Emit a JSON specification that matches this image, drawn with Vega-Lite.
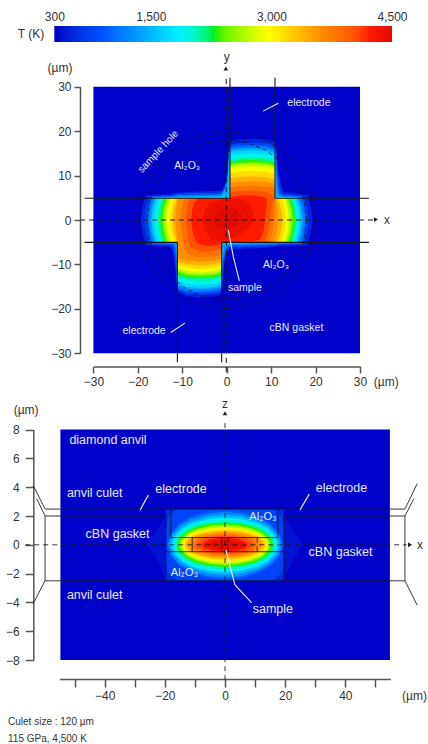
{"$schema":"https://vega.github.io/schema/vega-lite/v6.json","width":428,"height":744,"autosize":"none","padding":0,"background":"white","config":{"view":{"stroke":null},"axis":{"labelFont":"Liberation Sans","labelFontSize":12,"labelColor":"#333333","domainColor":"#555555","tickColor":"#555555","domainWidth":1.5,"tickWidth":1.5,"grid":false,"title":null}},"resolve":{"scale":{"x":"independent","y":"independent"}},"layer":[
{"encoding":{"x":{"field":"x","type":"quantitative","scale":{"domain":[300,4500],"range":[54.3,392],"nice":false,"zero":false},"axis":{"orient":"top","values":[300,1500,3000,4500],"format":",.0f","ticks":false,"domain":false,"offset":-23.5,"labelPadding":0,"labelOverlap":false,"labelFlush":false}},"y":{"field":"y","type":"quantitative","stack":null,"scale":{"domain":[0,1],"range":[42,26],"nice":false,"zero":false},"axis":null}},
"layer":[
{"mark":{"type":"rect"},"encoding":{"x2":{"field":"x2"},"y2":{"field":"y2"},"color":{"field":"T","type":"quantitative","legend":null,"scale":{"domain":[300,867,1350,1812,2274,2946,3576,4206,4500],"range":["#0000c8","#0050ff","#00a0ff","#00f0ff","#00f000","#ffff00","#ff9000","#ff1800","#e00800"]}}},"data":{"values":[{"x":300,"x2":360,"y":0,"y2":1,"T":300},{"x":350,"x2":410,"y":0,"y2":1,"T":350},{"x":400,"x2":460,"y":0,"y2":1,"T":400},{"x":450,"x2":510,"y":0,"y2":1,"T":450},{"x":500,"x2":560,"y":0,"y2":1,"T":500},{"x":550,"x2":610,"y":0,"y2":1,"T":550},{"x":600,"x2":660,"y":0,"y2":1,"T":600},{"x":650,"x2":710,"y":0,"y2":1,"T":650},{"x":700,"x2":760,"y":0,"y2":1,"T":700},{"x":750,"x2":810,"y":0,"y2":1,"T":750},{"x":800,"x2":860,"y":0,"y2":1,"T":800},{"x":850,"x2":910,"y":0,"y2":1,"T":850},{"x":900,"x2":960,"y":0,"y2":1,"T":900},{"x":950,"x2":1010,"y":0,"y2":1,"T":950},{"x":1000,"x2":1060,"y":0,"y2":1,"T":1000},{"x":1050,"x2":1110,"y":0,"y2":1,"T":1050},{"x":1100,"x2":1160,"y":0,"y2":1,"T":1100},{"x":1150,"x2":1210,"y":0,"y2":1,"T":1150},{"x":1200,"x2":1260,"y":0,"y2":1,"T":1200},{"x":1250,"x2":1310,"y":0,"y2":1,"T":1250},{"x":1300,"x2":1360,"y":0,"y2":1,"T":1300},{"x":1350,"x2":1410,"y":0,"y2":1,"T":1350},{"x":1400,"x2":1460,"y":0,"y2":1,"T":1400},{"x":1450,"x2":1510,"y":0,"y2":1,"T":1450},{"x":1500,"x2":1560,"y":0,"y2":1,"T":1500},{"x":1550,"x2":1610,"y":0,"y2":1,"T":1550},{"x":1600,"x2":1660,"y":0,"y2":1,"T":1600},{"x":1650,"x2":1710,"y":0,"y2":1,"T":1650},{"x":1700,"x2":1760,"y":0,"y2":1,"T":1700},{"x":1750,"x2":1810,"y":0,"y2":1,"T":1750},{"x":1800,"x2":1860,"y":0,"y2":1,"T":1800},{"x":1850,"x2":1910,"y":0,"y2":1,"T":1850},{"x":1900,"x2":1960,"y":0,"y2":1,"T":1900},{"x":1950,"x2":2010,"y":0,"y2":1,"T":1950},{"x":2000,"x2":2060,"y":0,"y2":1,"T":2000},{"x":2050,"x2":2110,"y":0,"y2":1,"T":2050},{"x":2100,"x2":2160,"y":0,"y2":1,"T":2100},{"x":2150,"x2":2210,"y":0,"y2":1,"T":2150},{"x":2200,"x2":2260,"y":0,"y2":1,"T":2200},{"x":2250,"x2":2310,"y":0,"y2":1,"T":2250},{"x":2300,"x2":2360,"y":0,"y2":1,"T":2300},{"x":2350,"x2":2410,"y":0,"y2":1,"T":2350},{"x":2400,"x2":2460,"y":0,"y2":1,"T":2400},{"x":2450,"x2":2510,"y":0,"y2":1,"T":2450},{"x":2500,"x2":2560,"y":0,"y2":1,"T":2500},{"x":2550,"x2":2610,"y":0,"y2":1,"T":2550},{"x":2600,"x2":2660,"y":0,"y2":1,"T":2600},{"x":2650,"x2":2710,"y":0,"y2":1,"T":2650},{"x":2700,"x2":2760,"y":0,"y2":1,"T":2700},{"x":2750,"x2":2810,"y":0,"y2":1,"T":2750},{"x":2800,"x2":2860,"y":0,"y2":1,"T":2800},{"x":2850,"x2":2910,"y":0,"y2":1,"T":2850},{"x":2900,"x2":2960,"y":0,"y2":1,"T":2900},{"x":2950,"x2":3010,"y":0,"y2":1,"T":2950},{"x":3000,"x2":3060,"y":0,"y2":1,"T":3000},{"x":3050,"x2":3110,"y":0,"y2":1,"T":3050},{"x":3100,"x2":3160,"y":0,"y2":1,"T":3100},{"x":3150,"x2":3210,"y":0,"y2":1,"T":3150},{"x":3200,"x2":3260,"y":0,"y2":1,"T":3200},{"x":3250,"x2":3310,"y":0,"y2":1,"T":3250},{"x":3300,"x2":3360,"y":0,"y2":1,"T":3300},{"x":3350,"x2":3410,"y":0,"y2":1,"T":3350},{"x":3400,"x2":3460,"y":0,"y2":1,"T":3400},{"x":3450,"x2":3510,"y":0,"y2":1,"T":3450},{"x":3500,"x2":3560,"y":0,"y2":1,"T":3500},{"x":3550,"x2":3610,"y":0,"y2":1,"T":3550},{"x":3600,"x2":3660,"y":0,"y2":1,"T":3600},{"x":3650,"x2":3710,"y":0,"y2":1,"T":3650},{"x":3700,"x2":3760,"y":0,"y2":1,"T":3700},{"x":3750,"x2":3810,"y":0,"y2":1,"T":3750},{"x":3800,"x2":3860,"y":0,"y2":1,"T":3800},{"x":3850,"x2":3910,"y":0,"y2":1,"T":3850},{"x":3900,"x2":3960,"y":0,"y2":1,"T":3900},{"x":3950,"x2":4010,"y":0,"y2":1,"T":3950},{"x":4000,"x2":4060,"y":0,"y2":1,"T":4000},{"x":4050,"x2":4110,"y":0,"y2":1,"T":4050},{"x":4100,"x2":4160,"y":0,"y2":1,"T":4100},{"x":4150,"x2":4210,"y":0,"y2":1,"T":4150},{"x":4200,"x2":4260,"y":0,"y2":1,"T":4200},{"x":4250,"x2":4310,"y":0,"y2":1,"T":4250},{"x":4300,"x2":4360,"y":0,"y2":1,"T":4300},{"x":4350,"x2":4410,"y":0,"y2":1,"T":4350},{"x":4400,"x2":4460,"y":0,"y2":1,"T":4400},{"x":4450,"x2":4500,"y":0,"y2":1,"T":4450}]}},
{"mark":{"type":"text","font":"Liberation Sans","fontSize":12,"fill":"#333333"},"encoding":{"text":{"field":"s"}},"data":{"values":[{"x":10,"y":0.5,"s":"T (K)"}]}}
]},
{"encoding":{"x":{"field":"x","type":"quantitative","scale":{"domain":[-30,30],"range":[93.4,360],"nice":false,"zero":false},"axis":{"orient":"bottom","values":[-30,-20,-10,0,10,20,30],"offset":-377.5,"tickSize":6.5,"labelPadding":3,"labelOverlap":false,"labelFlush":false}},"y":{"field":"y","type":"quantitative","stack":null,"scale":{"domain":[-30,30],"range":[353.3,86.7],"nice":false,"zero":false},"axis":{"orient":"left","values":[-30,-20,-10,0,10,20,30],"offset":-80,"tickSize":6,"labelPadding":3,"labelOverlap":false,"labelFlush":false}}},
"layer":[
{"mark":{"type":"rect"},"encoding":{"x2":{"field":"x2"},"y2":{"field":"y2"},"color":{"field":"T","type":"quantitative","legend":null,"scale":{"domain":[300,867,1350,1812,2274,2946,3576,4206,4500],"range":["#0000c8","#0050ff","#00a0ff","#00f0ff","#00f000","#ffff00","#ff9000","#ff1800","#e00800"]}}},"data":{"values":[{"x":-30,"x2":30,"y":-30,"y2":30,"T":300}]}},
{"mark":{"type":"area","interpolate":"linear"},"encoding":{"y2":{"field":"b"},"detail":{"field":"T"},"color":{"field":"T","type":"quantitative","legend":null,"scale":{"domain":[300,867,1350,1812,2274,2946,3576,4206,4500],"range":["#0000c8","#0050ff","#00a0ff","#00f0ff","#00f000","#ffff00","#ff9000","#ff1800","#e00800"]}}},"data":{"values":[
{"T":500,"x":-19.3,"y":0,"b":0},{"T":500,"x":-19,"y":2.5,"b":-2.5},{"T":500,"x":-18.3,"y":5.6,"b":-5.7},{"T":500,"x":-13,"y":5.8,"b":-5.9},{"T":500,"x":-12.4,"y":6,"b":-6.6},{"T":500,"x":-11.8,"y":6.1,"b":-9},{"T":500,"x":-11.3,"y":6.2,"b":-14},{"T":500,"x":-11.1,"y":6.2,"b":-16.3},{"T":500,"x":-9,"y":6.3,"b":-17.15},{"T":500,"x":-6,"y":6.4,"b":-17.4},{"T":500,"x":-3,"y":6.5,"b":-17.2},{"T":500,"x":-1.3,"y":6.6,"b":-16.7},{"T":500,"x":-1,"y":7,"b":-14},{"T":500,"x":-0.5,"y":8,"b":-9},{"T":500,"x":0,"y":10,"b":-7.3},{"T":500,"x":0.4,"y":13,"b":-6.7},{"T":500,"x":0.7,"y":17.5,"b":-6.6},{"T":500,"x":1,"y":17.9,"b":-6.6},{"T":500,"x":3,"y":18.18,"b":-6.5},{"T":500,"x":6,"y":18.3,"b":-6.4},{"T":500,"x":9,"y":18.1,"b":-6.2},{"T":500,"x":10.9,"y":17.6,"b":-6},{"T":500,"x":11.2,"y":16.5,"b":-6},{"T":500,"x":11.6,"y":11,"b":-5.9},{"T":500,"x":12.3,"y":7.5,"b":-5.8},{"T":500,"x":13,"y":6.3,"b":-5.8},{"T":500,"x":18.3,"y":5.6,"b":-5.7},{"T":500,"x":19,"y":2.5,"b":-2.5},{"T":500,"x":19.3,"y":0,"b":0},
{"T":800,"x":-18.5,"y":0,"b":0},{"T":800,"x":-18.2,"y":2.5,"b":-2.5},{"T":800,"x":-17.5,"y":5.4,"b":-5.5},{"T":800,"x":-12.6,"y":5.55,"b":-5.65},{"T":800,"x":-12.1,"y":5.7,"b":-6.2},{"T":800,"x":-11.6,"y":5.8,"b":-9},{"T":800,"x":-11.25,"y":5.9,"b":-13.5},{"T":800,"x":-11.1,"y":5.9,"b":-15.8},{"T":800,"x":-9,"y":6,"b":-16.55},{"T":800,"x":-6,"y":6.05,"b":-16.8},{"T":800,"x":-3,"y":6.1,"b":-16.6},{"T":800,"x":-1.3,"y":6.2,"b":-16.1},{"T":800,"x":-0.95,"y":6.5,"b":-13.5},{"T":800,"x":-0.6,"y":7,"b":-9.5},{"T":800,"x":-0.1,"y":8.5,"b":-7},{"T":800,"x":0.3,"y":11,"b":-6.4},{"T":800,"x":0.65,"y":16.5,"b":-6.2},{"T":800,"x":0.9,"y":17,"b":-6.15},{"T":800,"x":3,"y":17.28,"b":-6.1},{"T":800,"x":6,"y":17.4,"b":-6},{"T":800,"x":9,"y":17.2,"b":-5.9},{"T":800,"x":10.9,"y":16.7,"b":-5.75},{"T":800,"x":11.1,"y":15.8,"b":-5.75},{"T":800,"x":11.45,"y":11,"b":-5.7},{"T":800,"x":11.9,"y":7,"b":-5.6},{"T":800,"x":12.5,"y":5.9,"b":-5.55},{"T":800,"x":17.4,"y":5.4,"b":-5.5},{"T":800,"x":18.1,"y":2.5,"b":-2.5},{"T":800,"x":18.4,"y":0,"b":0},
{"T":1100,"x":-17.8,"y":0,"b":0},{"T":1100,"x":-17.5,"y":2.5,"b":-2.5},{"T":1100,"x":-16.8,"y":5.25,"b":-5.35},{"T":1100,"x":-12,"y":5.35,"b":-5.45},{"T":1100,"x":-11.7,"y":5.45,"b":-5.9},{"T":1100,"x":-11.35,"y":5.55,"b":-9},{"T":1100,"x":-11.15,"y":5.6,"b":-13},{"T":1100,"x":-11.1,"y":5.6,"b":-15.4},{"T":1100,"x":-9,"y":5.65,"b":-16.05},{"T":1100,"x":-6,"y":5.7,"b":-16.3},{"T":1100,"x":-3,"y":5.75,"b":-16.1},{"T":1100,"x":-1.2,"y":5.85,"b":-15.6},{"T":1100,"x":-1.05,"y":6.1,"b":-13},{"T":1100,"x":-0.8,"y":6.5,"b":-9.5},{"T":1100,"x":-0.3,"y":7.5,"b":-6.8},{"T":1100,"x":0.2,"y":10,"b":-6},{"T":1100,"x":0.6,"y":15.5,"b":-5.85},{"T":1100,"x":0.85,"y":16.4,"b":-5.8},{"T":1100,"x":3,"y":16.68,"b":-5.75},{"T":1100,"x":6,"y":16.8,"b":-5.7},{"T":1100,"x":9,"y":16.6,"b":-5.6},{"T":1100,"x":10.9,"y":16.1,"b":-5.5},{"T":1100,"x":11.05,"y":15,"b":-5.5},{"T":1100,"x":11.3,"y":11,"b":-5.45},{"T":1100,"x":11.65,"y":6.8,"b":-5.4},{"T":1100,"x":12.2,"y":5.5,"b":-5.35},{"T":1100,"x":16.8,"y":5.25,"b":-5.35},{"T":1100,"x":17.5,"y":2.5,"b":-2.5},{"T":1100,"x":17.8,"y":0,"b":0},
{"T":1400,"x":-17.3,"y":0,"b":0},{"T":1400,"x":-17,"y":2.5,"b":-2.5},{"T":1400,"x":-16.3,"y":5.1,"b":-5.2},{"T":1400,"x":-11.7,"y":5.15,"b":-5.25},{"T":1400,"x":-11.45,"y":5.2,"b":-5.7},{"T":1400,"x":-11.2,"y":5.25,"b":-9},{"T":1400,"x":-11.1,"y":5.3,"b":-14.8},{"T":1400,"x":-9,"y":5.35,"b":-15.45},{"T":1400,"x":-6,"y":5.4,"b":-15.7},{"T":1400,"x":-3,"y":5.45,"b":-15.5},{"T":1400,"x":-1.13,"y":5.5,"b":-15},{"T":1400,"x":-1.12,"y":5.6,"b":-12},{"T":1400,"x":-0.95,"y":5.9,"b":-9},{"T":1400,"x":-0.5,"y":6.5,"b":-6.3},{"T":1400,"x":0.1,"y":8.5,"b":-5.6},{"T":1400,"x":0.55,"y":14,"b":-5.5},{"T":1400,"x":0.74,"y":15.8,"b":-5.45},{"T":1400,"x":3,"y":16.08,"b":-5.4},{"T":1400,"x":6,"y":16.2,"b":-5.35},{"T":1400,"x":9,"y":16,"b":-5.3},{"T":1400,"x":10.9,"y":15.5,"b":-5.3},{"T":1400,"x":10.95,"y":14,"b":-5.3},{"T":1400,"x":11.15,"y":10,"b":-5.3},{"T":1400,"x":11.4,"y":6.5,"b":-5.25},{"T":1400,"x":11.8,"y":5.3,"b":-5.25},{"T":1400,"x":16.2,"y":5.1,"b":-5.2},{"T":1400,"x":16.9,"y":2.5,"b":-2.5},{"T":1400,"x":17.2,"y":0,"b":0},
{"T":1650,"x":-16.9,"y":0,"b":0},{"T":1650,"x":-16.6,"y":2.5,"b":-2.5},{"T":1650,"x":-15.9,"y":5,"b":-5.1},{"T":1650,"x":-11.2,"y":5.05,"b":-5.15},{"T":1650,"x":-11.19,"y":5.05,"b":-14.4},{"T":1650,"x":-9,"y":5.1,"b":-15.05},{"T":1650,"x":-6,"y":5.15,"b":-15.3},{"T":1650,"x":-3,"y":5.2,"b":-15.1},{"T":1650,"x":-1.13,"y":5.25,"b":-14.6},{"T":1650,"x":-1.12,"y":5.3,"b":-5.3},{"T":1650,"x":0.44,"y":5.5,"b":-5.3},{"T":1650,"x":0.45,"y":15.3,"b":-5.3},{"T":1650,"x":3,"y":15.58,"b":-5.25},{"T":1650,"x":6,"y":15.7,"b":-5.2},{"T":1650,"x":9,"y":15.5,"b":-5.15},{"T":1650,"x":11,"y":15,"b":-5.1},{"T":1650,"x":11.01,"y":5.3,"b":-5.1},{"T":1650,"x":15.8,"y":5,"b":-5.05},{"T":1650,"x":16.5,"y":2.5,"b":-2.5},{"T":1650,"x":16.8,"y":0,"b":0},
{"T":1900,"x":-16.2,"y":0,"b":0},{"T":1900,"x":-15.9,"y":2.5,"b":-2.5},{"T":1900,"x":-15.2,"y":4.95,"b":-5.05},{"T":1900,"x":-11.12,"y":4.95,"b":-5.05},{"T":1900,"x":-11.11,"y":4.95,"b":-13.7},{"T":1900,"x":-9,"y":5,"b":-14.35},{"T":1900,"x":-6,"y":5.02,"b":-14.6},{"T":1900,"x":-3,"y":5.05,"b":-14.4},{"T":1900,"x":-1.13,"y":5.1,"b":-13.9},{"T":1900,"x":-1.12,"y":5.1,"b":-5.15},{"T":1900,"x":0.64,"y":5.15,"b":-5.15},{"T":1900,"x":0.65,"y":14.6,"b":-5.15},{"T":1900,"x":3,"y":14.88,"b":-5.15},{"T":1900,"x":6,"y":15,"b":-5.1},{"T":1900,"x":9,"y":14.8,"b":-5.05},{"T":1900,"x":10.95,"y":14.3,"b":-5.05},{"T":1900,"x":10.96,"y":5.1,"b":-5.05},{"T":1900,"x":15.3,"y":4.95,"b":-5},{"T":1900,"x":16,"y":2.5,"b":-2.5},{"T":1900,"x":16.3,"y":0,"b":0},
{"T":2100,"x":-15.6,"y":0,"b":0},{"T":2100,"x":-15.3,"y":2.5,"b":-2.5},{"T":2100,"x":-14.6,"y":4.9,"b":-5},{"T":2100,"x":-11.1,"y":4.9,"b":-5},{"T":2100,"x":-11.09,"y":4.9,"b":-12.8},{"T":2100,"x":-9,"y":4.9,"b":-13.45},{"T":2100,"x":-6,"y":4.9,"b":-13.7},{"T":2100,"x":-3,"y":4.9,"b":-13.5},{"T":2100,"x":-1.14,"y":4.9,"b":-13},{"T":2100,"x":-1.13,"y":4.9,"b":-5},{"T":2100,"x":0.74,"y":4.9,"b":-5},{"T":2100,"x":0.75,"y":13.7,"b":-5},{"T":2100,"x":3,"y":13.98,"b":-5},{"T":2100,"x":6,"y":14.1,"b":-5},{"T":2100,"x":9,"y":13.9,"b":-5},{"T":2100,"x":10.9,"y":13.4,"b":-5},{"T":2100,"x":10.91,"y":4.9,"b":-5},{"T":2100,"x":14.8,"y":4.9,"b":-5},{"T":2100,"x":15.5,"y":2.5,"b":-2.5},{"T":2100,"x":15.8,"y":0,"b":0},
{"T":2300,"x":-15,"y":0,"b":0},{"T":2300,"x":-14.7,"y":2.5,"b":-2.5},{"T":2300,"x":-14,"y":4.9,"b":-5},{"T":2300,"x":-11.1,"y":4.9,"b":-5},{"T":2300,"x":-11.09,"y":4.9,"b":-12.2},{"T":2300,"x":-9,"y":4.9,"b":-12.85},{"T":2300,"x":-6,"y":4.9,"b":-13.1},{"T":2300,"x":-3,"y":4.9,"b":-12.9},{"T":2300,"x":-1.14,"y":4.9,"b":-12.4},{"T":2300,"x":-1.13,"y":4.9,"b":-5},{"T":2300,"x":0.74,"y":4.9,"b":-5},{"T":2300,"x":0.75,"y":13.1,"b":-5},{"T":2300,"x":3,"y":13.38,"b":-5},{"T":2300,"x":6,"y":13.5,"b":-5},{"T":2300,"x":9,"y":13.3,"b":-5},{"T":2300,"x":10.9,"y":12.8,"b":-5},{"T":2300,"x":10.91,"y":4.9,"b":-5},{"T":2300,"x":14.4,"y":4.9,"b":-5},{"T":2300,"x":15.1,"y":2.5,"b":-2.5},{"T":2300,"x":15.4,"y":0,"b":0},
{"T":2500,"x":-14.5,"y":0,"b":0},{"T":2500,"x":-14.2,"y":2.5,"b":-2.5},{"T":2500,"x":-13.5,"y":4.9,"b":-5},{"T":2500,"x":-11.1,"y":4.9,"b":-5},{"T":2500,"x":-11.09,"y":4.9,"b":-11.7},{"T":2500,"x":-9,"y":4.9,"b":-12.35},{"T":2500,"x":-6,"y":4.9,"b":-12.6},{"T":2500,"x":-3,"y":4.9,"b":-12.4},{"T":2500,"x":-1.14,"y":4.9,"b":-11.9},{"T":2500,"x":-1.13,"y":4.9,"b":-5},{"T":2500,"x":0.74,"y":4.9,"b":-5},{"T":2500,"x":0.75,"y":12.6,"b":-5},{"T":2500,"x":3,"y":12.88,"b":-5},{"T":2500,"x":6,"y":13,"b":-5},{"T":2500,"x":9,"y":12.8,"b":-5},{"T":2500,"x":10.9,"y":12.3,"b":-5},{"T":2500,"x":10.91,"y":4.9,"b":-5},{"T":2500,"x":13.9,"y":4.9,"b":-5},{"T":2500,"x":14.6,"y":2.5,"b":-2.5},{"T":2500,"x":14.9,"y":0,"b":0},
{"T":2700,"x":-14,"y":0,"b":0},{"T":2700,"x":-13.7,"y":2.5,"b":-2.5},{"T":2700,"x":-13,"y":4.9,"b":-5},{"T":2700,"x":-11.1,"y":4.9,"b":-5},{"T":2700,"x":-11.09,"y":4.9,"b":-11.3},{"T":2700,"x":-9,"y":4.9,"b":-11.95},{"T":2700,"x":-6,"y":4.9,"b":-12.2},{"T":2700,"x":-3,"y":4.9,"b":-12},{"T":2700,"x":-1.14,"y":4.9,"b":-11.5},{"T":2700,"x":-1.13,"y":4.9,"b":-5},{"T":2700,"x":0.74,"y":4.9,"b":-5},{"T":2700,"x":0.75,"y":12.2,"b":-5},{"T":2700,"x":3,"y":12.48,"b":-5},{"T":2700,"x":6,"y":12.6,"b":-5},{"T":2700,"x":9,"y":12.4,"b":-5},{"T":2700,"x":10.9,"y":11.9,"b":-5},{"T":2700,"x":10.91,"y":4.9,"b":-5},{"T":2700,"x":13.4,"y":4.9,"b":-5},{"T":2700,"x":14.1,"y":2.5,"b":-2.5},{"T":2700,"x":14.4,"y":0,"b":0},
{"T":2900,"x":-13.5,"y":0,"b":0},{"T":2900,"x":-13.2,"y":2.5,"b":-2.5},{"T":2900,"x":-12.5,"y":4.9,"b":-5},{"T":2900,"x":-11.1,"y":4.9,"b":-5},{"T":2900,"x":-11.09,"y":4.9,"b":-10.8},{"T":2900,"x":-9,"y":4.9,"b":-11.45},{"T":2900,"x":-6,"y":4.9,"b":-11.7},{"T":2900,"x":-3,"y":4.9,"b":-11.5},{"T":2900,"x":-1.14,"y":4.9,"b":-11},{"T":2900,"x":-1.13,"y":4.9,"b":-5},{"T":2900,"x":0.74,"y":4.9,"b":-5},{"T":2900,"x":0.75,"y":11.7,"b":-5},{"T":2900,"x":3,"y":11.98,"b":-5},{"T":2900,"x":6,"y":12.1,"b":-5},{"T":2900,"x":9,"y":11.9,"b":-5},{"T":2900,"x":10.9,"y":11.4,"b":-5},{"T":2900,"x":10.91,"y":4.9,"b":-5},{"T":2900,"x":13,"y":4.9,"b":-5},{"T":2900,"x":13.7,"y":2.5,"b":-2.5},{"T":2900,"x":14,"y":0,"b":0},
{"T":3150,"x":-12.8,"y":0,"b":0},{"T":3150,"x":-12.5,"y":2.5,"b":-2.5},{"T":3150,"x":-11.8,"y":4.9,"b":-5},{"T":3150,"x":-11.1,"y":4.9,"b":-5},{"T":3150,"x":-11.09,"y":4.9,"b":-10.1},{"T":3150,"x":-9,"y":4.9,"b":-10.75},{"T":3150,"x":-6,"y":4.9,"b":-11},{"T":3150,"x":-3,"y":4.9,"b":-10.8},{"T":3150,"x":-1.14,"y":4.9,"b":-10.3},{"T":3150,"x":-1.13,"y":4.9,"b":-5},{"T":3150,"x":0.74,"y":4.9,"b":-5},{"T":3150,"x":0.75,"y":10.6,"b":-5},{"T":3150,"x":3,"y":10.88,"b":-5},{"T":3150,"x":6,"y":11,"b":-5},{"T":3150,"x":9,"y":10.8,"b":-5},{"T":3150,"x":10.9,"y":10.3,"b":-5},{"T":3150,"x":10.91,"y":4.9,"b":-5},{"T":3150,"x":12.3,"y":4.9,"b":-5},{"T":3150,"x":13,"y":2.5,"b":-2.5},{"T":3150,"x":13.3,"y":0,"b":0},
{"T":3400,"x":-12.2,"y":0,"b":0},{"T":3400,"x":-11.9,"y":2.5,"b":-2.5},{"T":3400,"x":-11.2,"y":4.9,"b":-5},{"T":3400,"x":-11.1,"y":4.9,"b":-5},{"T":3400,"x":-11.09,"y":4.9,"b":-9.3},{"T":3400,"x":-9,"y":4.9,"b":-9.95},{"T":3400,"x":-6,"y":4.9,"b":-10.2},{"T":3400,"x":-3,"y":4.9,"b":-10},{"T":3400,"x":-1.14,"y":4.9,"b":-9.5},{"T":3400,"x":-1.13,"y":4.9,"b":-5},{"T":3400,"x":0.74,"y":4.9,"b":-5},{"T":3400,"x":0.75,"y":9.4,"b":-5},{"T":3400,"x":3,"y":9.68,"b":-5},{"T":3400,"x":6,"y":9.8,"b":-5},{"T":3400,"x":9,"y":9.6,"b":-5},{"T":3400,"x":10.9,"y":9.1,"b":-5},{"T":3400,"x":10.91,"y":4.9,"b":-5},{"T":3400,"x":11.5,"y":4.9,"b":-5},{"T":3400,"x":12.2,"y":2.5,"b":-2.5},{"T":3400,"x":12.5,"y":0,"b":0},
{"T":3600,"x":-11.6,"y":0,"b":0},{"T":3600,"x":-11.3,"y":2.5,"b":-2.5},{"T":3600,"x":-11.11,"y":4,"b":-4},{"T":3600,"x":-11.1,"y":4.9,"b":-8.5},{"T":3600,"x":-9,"y":4.9,"b":-9.15},{"T":3600,"x":-6,"y":4.9,"b":-9.4},{"T":3600,"x":-3,"y":4.9,"b":-9.2},{"T":3600,"x":-1.14,"y":4.9,"b":-8.7},{"T":3600,"x":-1.13,"y":4.9,"b":-5},{"T":3600,"x":0.74,"y":4.9,"b":-5},{"T":3600,"x":0.75,"y":8.3,"b":-5},{"T":3600,"x":3,"y":8.58,"b":-5},{"T":3600,"x":6,"y":8.7,"b":-5},{"T":3600,"x":9,"y":8.5,"b":-5},{"T":3600,"x":10.6,"y":8.2,"b":-5},{"T":3600,"x":10.9,"y":8,"b":-4},{"T":3600,"x":10.91,"y":4.9,"b":-4},{"T":3600,"x":11.3,"y":2.5,"b":-2.5},{"T":3600,"x":11.6,"y":0,"b":0},
{"T":3800,"x":-10.4,"y":0,"b":0},{"T":3800,"x":-10.2,"y":2,"b":-2},{"T":3800,"x":-9.9,"y":3.8,"b":-4.5},{"T":3800,"x":-9.5,"y":4.9,"b":-6.5},{"T":3800,"x":-8.5,"y":4.9,"b":-7.8},{"T":3800,"x":-6,"y":4.9,"b":-8.4},{"T":3800,"x":-3,"y":4.9,"b":-8.2},{"T":3800,"x":-1.14,"y":4.9,"b":-7.7},{"T":3800,"x":-1.13,"y":4.9,"b":-5},{"T":3800,"x":0.74,"y":4.9,"b":-5},{"T":3800,"x":0.75,"y":7.3,"b":-5},{"T":3800,"x":3,"y":7.6,"b":-5},{"T":3800,"x":6,"y":7.7,"b":-5},{"T":3800,"x":9.6,"y":7.4,"b":-5},{"T":3800,"x":10.3,"y":7.2,"b":-2.5},{"T":3800,"x":10.6,"y":7.1,"b":0},{"T":3800,"x":10.75,"y":7,"b":2.5},{"T":3800,"x":10.9,"y":6.9,"b":4.6},{"T":3800,"x":10.91,"y":4.9,"b":4.7},{"T":3800,"x":11,"y":4.8,"b":4.8},
{"T":4000,"x":-9.2,"y":0,"b":0},{"T":4000,"x":-9,"y":2,"b":-2},{"T":4000,"x":-8.7,"y":3.8,"b":-4.5},{"T":4000,"x":-8.2,"y":4.9,"b":-6},{"T":4000,"x":-6,"y":4.9,"b":-7.2},{"T":4000,"x":-3,"y":4.9,"b":-7},{"T":4000,"x":-1.14,"y":4.9,"b":-6.4},{"T":4000,"x":-1.13,"y":4.9,"b":-5},{"T":4000,"x":0.74,"y":4.9,"b":-5},{"T":4000,"x":0.75,"y":6.2,"b":-5},{"T":4000,"x":3,"y":6.5,"b":-5},{"T":4000,"x":6,"y":6.6,"b":-5},{"T":4000,"x":8.7,"y":6.3,"b":-5},{"T":4000,"x":9.4,"y":6.1,"b":-2.5},{"T":4000,"x":9.7,"y":6,"b":0},{"T":4000,"x":10,"y":5.8,"b":2.5},{"T":4000,"x":10.4,"y":5.4,"b":4.5},{"T":4000,"x":10.6,"y":4.9,"b":4.9},
{"T":4200,"x":-8,"y":0,"b":0},{"T":4200,"x":-7.8,"y":2,"b":-2},{"T":4200,"x":-7.3,"y":3.8,"b":-4},{"T":4200,"x":-6.5,"y":4.9,"b":-5.3},{"T":4200,"x":-4,"y":4.9,"b":-5.9},{"T":4200,"x":-1.14,"y":4.9,"b":-5.4},{"T":4200,"x":-1.13,"y":4.9,"b":-5},{"T":4200,"x":0.74,"y":4.9,"b":-5},{"T":4200,"x":0.75,"y":5.2,"b":-5},{"T":4200,"x":3,"y":5.5,"b":-4.9},{"T":4200,"x":6,"y":5.5,"b":-4.8},{"T":4200,"x":7.6,"y":5.3,"b":-4.3},{"T":4200,"x":8.3,"y":5.2,"b":-2.5},{"T":4200,"x":8.6,"y":5.1,"b":0},{"T":4200,"x":8.9,"y":4.9,"b":2.5},{"T":4200,"x":9,"y":4.5,"b":4},
{"T":4380,"x":-5.5,"y":0,"b":0},{"T":4380,"x":-4.8,"y":2.5,"b":-2.5},{"T":4380,"x":-3.5,"y":4,"b":-4.4},{"T":4380,"x":-1.5,"y":4.5,"b":-4.8},{"T":4380,"x":1,"y":4.85,"b":-4.2},{"T":4380,"x":3.5,"y":4.7,"b":-3.2},{"T":4380,"x":5.2,"y":3.5,"b":-1.5},{"T":4380,"x":6,"y":1.5,"b":0},
{"T":4480,"x":-3,"y":0,"b":0},{"T":4480,"x":-2,"y":2,"b":-2},{"T":4480,"x":0,"y":2.8,"b":-2.2},{"T":4480,"x":2,"y":2.5,"b":-1.5},{"T":4480,"x":3.5,"y":1,"b":0}
]}},
{"mark":{"type":"line","stroke":"#10102a","strokeWidth":1,"strokeDash":[2,2.5],"opacity":0.85},"encoding":{"order":{"field":"i"}},"data":{"values":[{"i":0,"x":20,"y":0},{"i":1,"x":19.3,"y":5.2},{"i":2,"x":17.3,"y":10},{"i":3,"x":14.1,"y":14.1},{"i":4,"x":10,"y":17.3},{"i":5,"x":5.2,"y":19.3},{"i":6,"x":0,"y":20},{"i":7,"x":-5.2,"y":19.3},{"i":8,"x":-10,"y":17.3},{"i":9,"x":-14.1,"y":14.1},{"i":10,"x":-17.3,"y":10},{"i":11,"x":-19.3,"y":5.2},{"i":12,"x":-20,"y":0},{"i":13,"x":-19.3,"y":-5.2},{"i":14,"x":-17.3,"y":-10},{"i":15,"x":-14.1,"y":-14.1},{"i":16,"x":-10,"y":-17.3},{"i":17,"x":-5.2,"y":-19.3},{"i":18,"x":0,"y":-20},{"i":19,"x":5.2,"y":-19.3},{"i":20,"x":10,"y":-17.3},{"i":21,"x":14.1,"y":-14.1},{"i":22,"x":17.3,"y":-10},{"i":23,"x":19.3,"y":-5.2},{"i":24,"x":20,"y":0}]}},
{"mark":{"type":"line","stroke":"#10102a","strokeWidth":1,"strokeDash":[4,3],"opacity":0.8},"encoding":{"order":{"field":"i"}},"data":{"values":[{"i":0,"x":18,"y":0},{"i":1,"x":17.4,"y":4.7},{"i":2,"x":15.6,"y":9},{"i":3,"x":12.7,"y":12.7},{"i":4,"x":9,"y":15.6},{"i":5,"x":4.7,"y":17.4},{"i":6,"x":0,"y":18},{"i":7,"x":-4.7,"y":17.4},{"i":8,"x":-9,"y":15.6},{"i":9,"x":-12.7,"y":12.7},{"i":10,"x":-15.6,"y":9},{"i":11,"x":-17.4,"y":4.7},{"i":12,"x":-18,"y":0},{"i":13,"x":-17.4,"y":-4.7},{"i":14,"x":-15.6,"y":-9},{"i":15,"x":-12.7,"y":-12.7},{"i":16,"x":-9,"y":-15.6},{"i":17,"x":-4.7,"y":-17.4},{"i":18,"x":0,"y":-18},{"i":19,"x":4.7,"y":-17.4},{"i":20,"x":9,"y":-15.6},{"i":21,"x":12.7,"y":-12.7},{"i":22,"x":15.6,"y":-9},{"i":23,"x":17.4,"y":-4.7},{"i":24,"x":18,"y":0}]}},
{"mark":{"type":"rule","stroke":"#15151f","strokeWidth":1.1},"encoding":{"x2":{"field":"x2"},"y2":{"field":"y2"}},"data":{"values":[{"x":-32,"y":4.88,"x2":0.74,"y2":4.88},{"x":0.74,"y":4.88,"x2":0.74,"y2":32},{"x":10.87,"y":32,"x2":10.87,"y2":4.88},{"x":10.87,"y":4.88,"x2":32,"y2":4.88},{"x":-32,"y":-5.03,"x2":-11.1,"y2":-5.03},{"x":-11.1,"y":-5.03,"x2":-11.1,"y2":-32},{"x":-1.13,"y":-32,"x2":-1.13,"y2":-5.03},{"x":-1.13,"y":-5.03,"x2":32,"y2":-5.03}]}},
{"mark":{"type":"rule","stroke":"#15151f","strokeWidth":1,"strokeDash":[5,4]},"encoding":{"x2":{"field":"x2"},"y2":{"field":"y2"}},"data":{"values":[{"x":-33,"y":0,"x2":33,"y2":0},{"x":-0.1,"y":-34.2,"x2":-0.1,"y2":32.5}]}},
{"mark":{"type":"rule","stroke":"#eef0ff","strokeWidth":1.1},"encoding":{"x2":{"field":"x2"},"y2":{"field":"y2"}},"data":{"values":[{"x":11.6,"y":26.3,"x2":8.2,"y2":24.5},{"x":0.36,"y":-2.25,"x2":1.5,"y2":-8.3},{"x":1.5,"y":-8.3,"x2":2.84,"y2":-13.7},{"x":-12.6,"y":-25.3,"x2":-9.4,"y2":-23.2}]}},
{"mark":{"type":"point","shape":"triangle-up","filled":true,"size":22,"fill":"#222222","opacity":1},"data":{"values":[{"x":-0.2,"y":34.1}]}},
{"mark":{"type":"point","shape":"triangle-right","filled":true,"size":22,"fill":"#222222","opacity":1},"data":{"values":[{"x":33.6,"y":0.1}]}},
{"mark":{"type":"text","font":"Liberation Sans","fontSize":10.5,"fill":"#e8ebff"},"encoding":{"text":{"field":"s"}},"data":{"values":[{"x":18.5,"y":26.3,"s":"electrode"},{"x":-8.9,"y":12.2,"s":"Al₂O₃"},{"x":11.1,"y":-10.1,"s":"Al₂O₃"},{"x":4.1,"y":-15.2,"s":"sample"},{"x":-18.6,"y":-24.9,"s":"electrode"},{"x":15.7,"y":-24.3,"s":"cBN gasket"}]}},
{"mark":{"type":"text","font":"Liberation Sans","fontSize":10,"fill":"#e8ebff","angle":313},"encoding":{"text":{"field":"s"}},"data":{"values":[{"x":-15.4,"y":15.4,"s":"sample hole"}]}},
{"mark":{"type":"text","font":"Liberation Sans","fontSize":12,"fill":"#333333"},"encoding":{"text":{"field":"s"}},"data":{"values":[{"x":-37.5,"y":34.2,"s":"(µm)"},{"x":0,"y":36.7,"s":"y"},{"x":36.1,"y":0,"s":"x"},{"x":35.9,"y":-36.5,"s":"(µm)"}]}}
]},
{"encoding":{"x":{"field":"x","type":"quantitative","scale":{"domain":[-55,55],"range":[59.5,390.5],"nice":false,"zero":false},"axis":{"orient":"bottom","values":[-50,-40,-30,-20,-10,0,10,20,30,40,50],"labelExpr":"datum.value % 20 === 0 ? datum.label : ''","offset":-65,"tickSize":8,"labelPadding":3,"labelOverlap":false,"labelFlush":false}},"y":{"field":"y","type":"quantitative","stack":null,"scale":{"domain":[-8,8],"range":[660,429.6],"nice":false,"zero":false},"axis":{"orient":"left","values":[-8,-6,-4,-2,0,2,4,6,8],"offset":-33.3,"tickSize":8,"labelPadding":6,"labelOverlap":false,"labelFlush":false}}},
"layer":[
{"mark":{"type":"rect"},"encoding":{"x2":{"field":"x2"},"y2":{"field":"y2"},"color":{"field":"T","type":"quantitative","legend":null,"scale":{"domain":[300,867,1350,1812,2274,2946,3576,4206,4500],"range":["#0000c8","#0050ff","#00a0ff","#00f0ff","#00f000","#ffff00","#ff9000","#ff1800","#e00800"]}}},"data":{"values":[{"x":-54.7,"x2":54.8,"y":-8,"y2":8,"T":300}]}},
{"mark":{"type":"area","interpolate":"linear"},"encoding":{"y2":{"field":"b"},"detail":{"field":"T"},"color":{"field":"T","type":"quantitative","legend":null,"scale":{"domain":[300,867,1350,1812,2274,2946,3576,4206,4500],"range":["#0000c8","#0050ff","#00a0ff","#00f0ff","#00f000","#ffff00","#ff9000","#ff1800","#e00800"]}}},"data":{"values":[
{"T":380,"x":-26,"y":0,"b":0},{"T":380,"x":-22,"y":1.2,"b":-1.2},{"T":380,"x":-19.7,"y":2,"b":-2.5},{"T":380,"x":19.6,"y":2,"b":-2.5},{"T":380,"x":22,"y":1.2,"b":-1.2},{"T":380,"x":26,"y":0,"b":0},
{"T":550,"x":-19.7,"y":2.48,"b":-2.5},{"T":550,"x":19.6,"y":2.48,"b":-2.5},
{"T":750,"x":-19.6,"y":0.8,"b":-0.8},{"T":750,"x":-19,"y":1.9,"b":-1.9},{"T":750,"x":-16,"y":2.48,"b":-2.48},{"T":750,"x":16,"y":2.48,"b":-2.48},{"T":750,"x":19,"y":1.9,"b":-1.9},{"T":750,"x":19.6,"y":0.8,"b":-0.8},
{"T":900,"x":-19.3,"y":0,"b":0},{"T":900,"x":-18.3,"y":0.76,"b":-0.76},{"T":900,"x":-15.4,"y":1.47,"b":-1.47},{"T":900,"x":-11.6,"y":1.96,"b":-1.96},{"T":900,"x":-5.8,"y":2.34,"b":-2.34},{"T":900,"x":0,"y":2.45,"b":-2.45},{"T":900,"x":5.8,"y":2.34,"b":-2.34},{"T":900,"x":11.6,"y":1.96,"b":-1.96},{"T":900,"x":15.4,"y":1.47,"b":-1.47},{"T":900,"x":18.3,"y":0.76,"b":-0.76},{"T":900,"x":19.3,"y":0,"b":0},
{"T":1200,"x":-18.9,"y":0,"b":0},{"T":1200,"x":-18,"y":0.71,"b":-0.71},{"T":1200,"x":-15.1,"y":1.37,"b":-1.37},{"T":1200,"x":-11.3,"y":1.82,"b":-1.82},{"T":1200,"x":-5.7,"y":2.18,"b":-2.18},{"T":1200,"x":0,"y":2.28,"b":-2.28},{"T":1200,"x":5.7,"y":2.18,"b":-2.18},{"T":1200,"x":11.3,"y":1.82,"b":-1.82},{"T":1200,"x":15.1,"y":1.37,"b":-1.37},{"T":1200,"x":18,"y":0.71,"b":-0.71},{"T":1200,"x":18.9,"y":0,"b":0},
{"T":1500,"x":-18.3,"y":0,"b":0},{"T":1500,"x":-17.4,"y":0.64,"b":-0.64},{"T":1500,"x":-14.6,"y":1.25,"b":-1.25},{"T":1500,"x":-11,"y":1.66,"b":-1.66},{"T":1500,"x":-5.5,"y":1.98,"b":-1.98},{"T":1500,"x":0,"y":2.08,"b":-2.08},{"T":1500,"x":5.5,"y":1.98,"b":-1.98},{"T":1500,"x":11,"y":1.66,"b":-1.66},{"T":1500,"x":14.6,"y":1.25,"b":-1.25},{"T":1500,"x":17.4,"y":0.64,"b":-0.64},{"T":1500,"x":18.3,"y":0,"b":0},
{"T":1800,"x":-17.6,"y":0,"b":0},{"T":1800,"x":-16.7,"y":0.59,"b":-0.59},{"T":1800,"x":-14.1,"y":1.14,"b":-1.14},{"T":1800,"x":-10.6,"y":1.52,"b":-1.52},{"T":1800,"x":-5.3,"y":1.81,"b":-1.81},{"T":1800,"x":0,"y":1.9,"b":-1.9},{"T":1800,"x":5.3,"y":1.81,"b":-1.81},{"T":1800,"x":10.6,"y":1.52,"b":-1.52},{"T":1800,"x":14.1,"y":1.14,"b":-1.14},{"T":1800,"x":16.7,"y":0.59,"b":-0.59},{"T":1800,"x":17.6,"y":0,"b":0},
{"T":2050,"x":-16.8,"y":0,"b":0},{"T":2050,"x":-16,"y":0.53,"b":-0.53},{"T":2050,"x":-13.4,"y":1.03,"b":-1.03},{"T":2050,"x":-10.1,"y":1.38,"b":-1.38},{"T":2050,"x":-5,"y":1.64,"b":-1.64},{"T":2050,"x":0,"y":1.72,"b":-1.72},{"T":2050,"x":5,"y":1.64,"b":-1.64},{"T":2050,"x":10.1,"y":1.38,"b":-1.38},{"T":2050,"x":13.4,"y":1.03,"b":-1.03},{"T":2050,"x":16,"y":0.53,"b":-0.53},{"T":2050,"x":16.8,"y":0,"b":0},
{"T":2300,"x":-16,"y":0,"b":0},{"T":2300,"x":-15.2,"y":0.48,"b":-0.48},{"T":2300,"x":-12.8,"y":0.93,"b":-0.93},{"T":2300,"x":-9.6,"y":1.24,"b":-1.24},{"T":2300,"x":-4.8,"y":1.48,"b":-1.48},{"T":2300,"x":0,"y":1.55,"b":-1.55},{"T":2300,"x":4.8,"y":1.48,"b":-1.48},{"T":2300,"x":9.6,"y":1.24,"b":-1.24},{"T":2300,"x":12.8,"y":0.93,"b":-0.93},{"T":2300,"x":15.2,"y":0.48,"b":-0.48},{"T":2300,"x":16,"y":0,"b":0},
{"T":2550,"x":-15.2,"y":0,"b":0},{"T":2550,"x":-14.4,"y":0.43,"b":-0.43},{"T":2550,"x":-12.2,"y":0.84,"b":-0.84},{"T":2550,"x":-9.1,"y":1.12,"b":-1.12},{"T":2550,"x":-4.6,"y":1.34,"b":-1.34},{"T":2550,"x":0,"y":1.4,"b":-1.4},{"T":2550,"x":4.6,"y":1.34,"b":-1.34},{"T":2550,"x":9.1,"y":1.12,"b":-1.12},{"T":2550,"x":12.2,"y":0.84,"b":-0.84},{"T":2550,"x":14.4,"y":0.43,"b":-0.43},{"T":2550,"x":15.2,"y":0,"b":0},
{"T":2800,"x":-14.5,"y":0,"b":0},{"T":2800,"x":-13.8,"y":0.39,"b":-0.39},{"T":2800,"x":-11.6,"y":0.76,"b":-0.76},{"T":2800,"x":-8.7,"y":1.02,"b":-1.02},{"T":2800,"x":-4.4,"y":1.21,"b":-1.21},{"T":2800,"x":0,"y":1.27,"b":-1.27},{"T":2800,"x":4.4,"y":1.21,"b":-1.21},{"T":2800,"x":8.7,"y":1.02,"b":-1.02},{"T":2800,"x":11.6,"y":0.76,"b":-0.76},{"T":2800,"x":13.8,"y":0.39,"b":-0.39},{"T":2800,"x":14.5,"y":0,"b":0},
{"T":3050,"x":-14.3,"y":0,"b":0},{"T":3050,"x":-13.6,"y":0.36,"b":-0.36},{"T":3050,"x":-11.4,"y":0.69,"b":-0.69},{"T":3050,"x":-8.6,"y":0.92,"b":-0.92},{"T":3050,"x":-4.3,"y":1.1,"b":-1.1},{"T":3050,"x":0,"y":1.15,"b":-1.15},{"T":3050,"x":4.3,"y":1.1,"b":-1.1},{"T":3050,"x":8.6,"y":0.92,"b":-0.92},{"T":3050,"x":11.4,"y":0.69,"b":-0.69},{"T":3050,"x":13.6,"y":0.36,"b":-0.36},{"T":3050,"x":14.3,"y":0,"b":0},
{"T":3300,"x":-13.5,"y":0,"b":0},{"T":3300,"x":-12.8,"y":0.32,"b":-0.32},{"T":3300,"x":-10.8,"y":0.62,"b":-0.62},{"T":3300,"x":-8.1,"y":0.82,"b":-0.82},{"T":3300,"x":-4.1,"y":0.98,"b":-0.98},{"T":3300,"x":0,"y":1.03,"b":-1.03},{"T":3300,"x":4.1,"y":0.98,"b":-0.98},{"T":3300,"x":8.1,"y":0.82,"b":-0.82},{"T":3300,"x":10.8,"y":0.62,"b":-0.62},{"T":3300,"x":12.8,"y":0.32,"b":-0.32},{"T":3300,"x":13.5,"y":0,"b":0},
{"T":3550,"x":-12.6,"y":0,"b":0},{"T":3550,"x":-12,"y":0.28,"b":-0.28},{"T":3550,"x":-10.1,"y":0.54,"b":-0.54},{"T":3550,"x":-7.6,"y":0.72,"b":-0.72},{"T":3550,"x":-3.8,"y":0.86,"b":-0.86},{"T":3550,"x":0,"y":0.9,"b":-0.9},{"T":3550,"x":3.8,"y":0.86,"b":-0.86},{"T":3550,"x":7.6,"y":0.72,"b":-0.72},{"T":3550,"x":10.1,"y":0.54,"b":-0.54},{"T":3550,"x":12,"y":0.28,"b":-0.28},{"T":3550,"x":12.6,"y":0,"b":0},
{"T":3800,"x":-11,"y":0,"b":0},{"T":3800,"x":-10.5,"y":0.24,"b":-0.24},{"T":3800,"x":-8.8,"y":0.46,"b":-0.46},{"T":3800,"x":-6.6,"y":0.61,"b":-0.61},{"T":3800,"x":-3.3,"y":0.73,"b":-0.73},{"T":3800,"x":0,"y":0.76,"b":-0.76},{"T":3800,"x":3.3,"y":0.73,"b":-0.73},{"T":3800,"x":6.6,"y":0.61,"b":-0.61},{"T":3800,"x":8.8,"y":0.46,"b":-0.46},{"T":3800,"x":10.5,"y":0.24,"b":-0.24},{"T":3800,"x":11,"y":0,"b":0},
{"T":4050,"x":-9.5,"y":0,"b":0},{"T":4050,"x":-9,"y":0.19,"b":-0.19},{"T":4050,"x":-7.6,"y":0.37,"b":-0.37},{"T":4050,"x":-5.7,"y":0.5,"b":-0.5},{"T":4050,"x":-2.9,"y":0.59,"b":-0.59},{"T":4050,"x":0,"y":0.62,"b":-0.62},{"T":4050,"x":2.9,"y":0.59,"b":-0.59},{"T":4050,"x":5.7,"y":0.5,"b":-0.5},{"T":4050,"x":7.6,"y":0.37,"b":-0.37},{"T":4050,"x":9,"y":0.19,"b":-0.19},{"T":4050,"x":9.5,"y":0,"b":0},
{"T":4300,"x":-7.5,"y":0,"b":0},{"T":4300,"x":-7.1,"y":0.15,"b":-0.15},{"T":4300,"x":-6,"y":0.28,"b":-0.28},{"T":4300,"x":-4.5,"y":0.38,"b":-0.38},{"T":4300,"x":-2.3,"y":0.45,"b":-0.45},{"T":4300,"x":0,"y":0.47,"b":-0.47},{"T":4300,"x":2.3,"y":0.45,"b":-0.45},{"T":4300,"x":4.5,"y":0.38,"b":-0.38},{"T":4300,"x":6,"y":0.28,"b":-0.28},{"T":4300,"x":7.1,"y":0.15,"b":-0.15},{"T":4300,"x":7.5,"y":0,"b":0},
{"T":4450,"x":-5,"y":0,"b":0},{"T":4450,"x":-4.8,"y":0.09,"b":-0.09},{"T":4450,"x":-4,"y":0.18,"b":-0.18},{"T":4450,"x":-3,"y":0.24,"b":-0.24},{"T":4450,"x":-1.5,"y":0.29,"b":-0.29},{"T":4450,"x":0,"y":0.3,"b":-0.3},{"T":4450,"x":1.5,"y":0.29,"b":-0.29},{"T":4450,"x":3,"y":0.24,"b":-0.24},{"T":4450,"x":4,"y":0.18,"b":-0.18},{"T":4450,"x":4.8,"y":0.09,"b":-0.09},{"T":4450,"x":5,"y":0,"b":0}
]}},
{"mark":{"type":"rule","stroke":"#15151f","strokeWidth":1,"opacity":0.85},"encoding":{"x2":{"field":"x2"},"y2":{"field":"y2"}},"data":{"values":[{"x":-59.8,"y":2.48,"x2":59.8,"y2":2.48},{"x":-59.8,"y":2,"x2":-19.7,"y2":2},{"x":19.6,"y":2,"x2":59.8,"y2":2},{"x":-19.7,"y":2,"x2":-19.7,"y2":-2.5},{"x":19.6,"y":2,"x2":19.6,"y2":-2.5},{"x":-59.8,"y":-2.5,"x2":59.8,"y2":-2.5},{"x":-59.8,"y":2,"x2":-59.8,"y2":-2.5},{"x":59.8,"y":2,"x2":59.8,"y2":-2.5},{"x":-18,"y":2.48,"x2":-18,"y2":0.5},{"x":17.6,"y":2.48,"x2":17.6,"y2":0.5},{"x":-18,"y":0.5,"x2":17.6,"y2":0.5},{"x":-19.7,"y":-0.48,"x2":19.6,"y2":-0.48},{"x":-10.9,"y":0.5,"x2":-10.9,"y2":-0.48},{"x":-1.1,"y":0.5,"x2":-1.1,"y2":-0.48},{"x":-63.7,"y":4.1,"x2":-59.8,"y2":2.48},{"x":-62.6,"y":3.22,"x2":-59.8,"y2":2},{"x":-63.7,"y":-4.06,"x2":-59.8,"y2":-2.5},{"x":63.9,"y":4.26,"x2":59.8,"y2":2.48},{"x":62.8,"y":3.22,"x2":59.8,"y2":2},{"x":63.9,"y":-4.2,"x2":59.8,"y2":-2.5}]}},
{"mark":{"type":"rule","stroke":"#15151f","strokeWidth":1,"strokeDash":[5,4],"opacity":0.85},"encoding":{"x2":{"field":"x2"},"y2":{"field":"y2"}},"data":{"values":[{"x":-66.4,"y":0,"x2":60.4,"y2":0},{"x":0,"y":8.45,"x2":0,"y2":-9.4},{"x":10.7,"y":0.5,"x2":10.7,"y2":-0.48},{"x":1,"y":0.5,"x2":1,"y2":-0.48}]}},
{"mark":{"type":"rule","stroke":"#eef0ff","strokeWidth":1.1},"encoding":{"x2":{"field":"x2"},"y2":{"field":"y2"}},"data":{"values":[{"x":-25.5,"y":3.45,"x2":-28.2,"y2":2.41},{"x":28,"y":3.52,"x2":24.9,"y2":2.41},{"x":0.3,"y":-0.36,"x2":3.3,"y2":-2.79},{"x":3.3,"y":-2.79,"x2":8.9,"y2":-4.04}]}},
{"mark":{"type":"point","shape":"triangle-up","filled":true,"size":22,"fill":"#222222","opacity":1},"data":{"values":[{"x":0,"y":9.14}]}},
{"mark":{"type":"point","shape":"triangle-right","filled":true,"size":22,"fill":"#222222","opacity":1},"data":{"values":[{"x":61.5,"y":0}]}},
{"mark":{"type":"text","font":"Liberation Sans","fontSize":12.5,"fill":"#e8ebff"},"encoding":{"text":{"field":"s"}},"data":{"values":[{"x":-38.9,"y":7.27,"s":"diamond anvil"},{"x":-43.3,"y":3.59,"s":"anvil culet"},{"x":-43.3,"y":-3.48,"s":"anvil culet"},{"x":-14.6,"y":3.87,"s":"electrode"},{"x":38.7,"y":3.94,"s":"electrode"},{"x":-35.7,"y":0.75,"s":"cBN gasket"},{"x":38.4,"y":-0.5,"s":"cBN gasket"},{"x":15.9,"y":-4.45,"s":"sample"}]}},
{"mark":{"type":"text","font":"Liberation Sans","fontSize":11,"fill":"#e8ebff"},"encoding":{"text":{"field":"s"}},"data":{"values":[{"x":-13.5,"y":-1.93,"s":"Al₂O₃"},{"x":12.6,"y":1.95,"s":"Al₂O₃"}]}},
{"mark":{"type":"text","font":"Liberation Sans","fontSize":12,"fill":"#333333"},"encoding":{"text":{"field":"s"}},"data":{"values":[{"x":-66.1,"y":9.35,"s":"(µm)"},{"x":0,"y":9.8,"s":"z"},{"x":64.8,"y":0,"s":"x"},{"x":63,"y":-10.49,"s":"(µm)"}]}},
{"mark":{"type":"text","font":"Liberation Sans","fontSize":10,"fill":"#333333","align":"left"},"encoding":{"text":{"field":"s"}},"data":{"values":[{"x":-72.1,"y":-12.29,"s":"Culet size : 120 µm"},{"x":-72.1,"y":-13.47,"s":"115 GPa, 4,500 K"}]}}
]}
]}
